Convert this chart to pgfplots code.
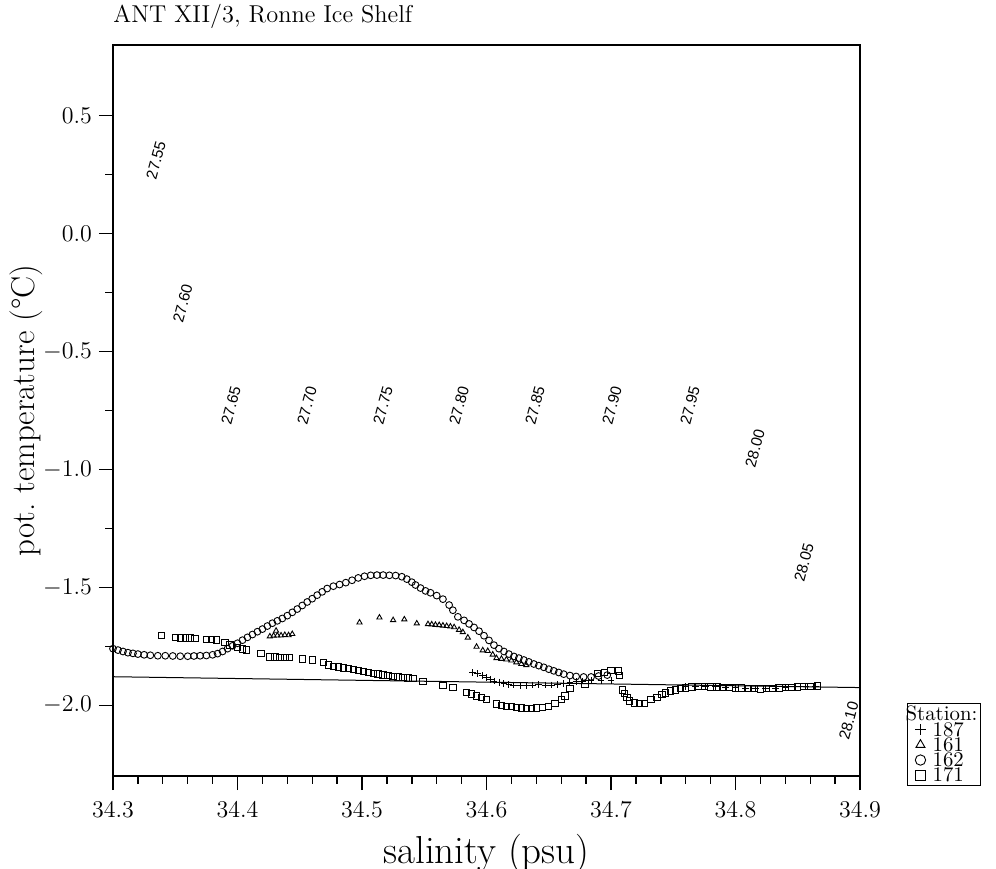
\documentclass[border=0pt]{standalone}
\usepackage{fontspec}
\newfontfamily\isofont{Liberation Sans}
\usepackage{pgfplots}
\pgfplotsset{compat=1.18}
\usepackage{pgfplotstable}

\pgfplotstableread{
x y
34.589 -1.861
34.593 -1.866
34.597 -1.874
34.600 -1.882
34.603 -1.890
34.606 -1.897
34.610 -1.903
34.614 -1.908
34.618 -1.912
34.622 -1.914
34.627 -1.915
34.632 -1.915
34.637 -1.914
34.642 -1.913
34.647 -1.914
34.652 -1.914
34.657 -1.912
34.662 -1.909
34.667 -1.905
34.672 -1.900
34.677 -1.897
34.684 -1.896
34.692 -1.895
34.700 -1.894
34.760 -1.922
34.768 -1.920
34.776 -1.921
34.784 -1.922
34.792 -1.924
34.800 -1.925
34.808 -1.927
34.816 -1.929
34.824 -1.930
34.832 -1.927
34.840 -1.924
34.848 -1.922
34.856 -1.920
34.864 -1.919
}\stA

\pgfplotstableread{
x y
34.426 -1.708
34.429 -1.705
34.431 -1.684
34.432 -1.704
34.435 -1.704
34.438 -1.702
34.441 -1.703
34.444 -1.698
34.498 -1.649
34.514 -1.628
34.525 -1.639
34.534 -1.636
34.544 -1.653
34.553 -1.656
34.556 -1.657
34.559 -1.659
34.562 -1.660
34.565 -1.662
34.568 -1.664
34.571 -1.666
34.574 -1.669
34.578 -1.680
34.581 -1.690
34.585 -1.713
34.592 -1.752
34.597 -1.767
34.601 -1.770
34.605 -1.785
34.608 -1.800
34.612 -1.803
34.616 -1.806
34.620 -1.810
34.624 -1.818
34.628 -1.825
34.632 -1.830
}\stB

\pgfplotstableread{
x y
34.300 -1.760
34.304 -1.766
34.308 -1.772
34.312 -1.777
34.316 -1.780
34.320 -1.783
34.325 -1.786
34.330 -1.788
34.336 -1.790
34.342 -1.790
34.348 -1.791
34.354 -1.792
34.360 -1.792
34.365 -1.791
34.370 -1.790
34.375 -1.789
34.380 -1.786
34.384 -1.781
34.388 -1.772
34.392 -1.760
34.396 -1.748
34.400 -1.737
34.404 -1.724
34.408 -1.712
34.412 -1.700
34.416 -1.688
34.420 -1.677
34.424 -1.664
34.428 -1.652
34.432 -1.642
34.436 -1.632
34.440 -1.620
34.444 -1.606
34.448 -1.592
34.452 -1.577
34.456 -1.562
34.460 -1.548
34.464 -1.533
34.468 -1.519
34.472 -1.505
34.477 -1.495
34.482 -1.488
34.487 -1.480
34.492 -1.470
34.497 -1.460
34.502 -1.453
34.507 -1.449
34.512 -1.448
34.517 -1.448
34.522 -1.449
34.527 -1.450
34.532 -1.455
34.536 -1.465
34.540 -1.478
34.543 -1.490
34.547 -1.503
34.551 -1.515
34.555 -1.523
34.560 -1.535
34.565 -1.550
34.570 -1.575
34.573 -1.597
34.577 -1.625
34.582 -1.640
34.586 -1.655
34.590 -1.670
34.594 -1.686
34.598 -1.705
34.602 -1.725
34.606 -1.745
34.610 -1.760
34.614 -1.772
34.618 -1.783
34.622 -1.793
34.626 -1.800
34.630 -1.808
34.634 -1.816
34.638 -1.825
34.642 -1.832
34.646 -1.839
34.650 -1.847
34.654 -1.854
34.658 -1.861
34.662 -1.868
34.667 -1.874
34.672 -1.878
34.678 -1.880
34.684 -1.880
34.690 -1.876
34.697 -1.872
}\stC

\pgfplotstableread{
x y
34.339 -1.705
34.350 -1.712
34.354 -1.714
34.358 -1.714
34.362 -1.715
34.366 -1.716
34.375 -1.720
34.379 -1.721
34.383 -1.723
34.390 -1.735
34.394 -1.745
34.400 -1.756
34.404 -1.762
34.407 -1.765
34.419 -1.780
34.426 -1.795
34.430 -1.796
34.434 -1.797
34.438 -1.797
34.442 -1.798
34.452 -1.804
34.460 -1.808
34.469 -1.819
34.473 -1.830
34.477 -1.835
34.481 -1.838
34.485 -1.842
34.489 -1.845
34.493 -1.848
34.497 -1.852
34.501 -1.858
34.505 -1.862
34.509 -1.866
34.513 -1.868
34.517 -1.871
34.521 -1.874
34.525 -1.877
34.529 -1.880
34.533 -1.882
34.537 -1.884
34.541 -1.887
34.549 -1.900
34.565 -1.915
34.573 -1.925
34.584 -1.945
34.588 -1.952
34.592 -1.960
34.596 -1.968
34.600 -1.975
34.608 -1.994
34.612 -2.000
34.616 -2.004
34.620 -2.006
34.624 -2.010
34.628 -2.012
34.632 -2.013
34.636 -2.015
34.640 -2.012
34.645 -2.010
34.650 -2.005
34.655 -1.992
34.660 -1.975
34.663 -1.960
34.667 -1.928
34.679 -1.910
34.689 -1.866
34.695 -1.860
34.700 -1.852
34.706 -1.854
34.707 -1.875
34.709 -1.935
34.711 -1.950
34.713 -1.968
34.715 -1.982
34.719 -1.990
34.723 -1.992
34.727 -1.992
34.732 -1.976
34.737 -1.968
34.741 -1.955
34.744 -1.948
34.748 -1.940
34.752 -1.935
34.756 -1.930
34.760 -1.926
34.765 -1.923
34.770 -1.921
34.775 -1.921
34.780 -1.922
34.785 -1.923
34.790 -1.924
34.795 -1.925
34.800 -1.926
34.805 -1.926
34.810 -1.928
34.815 -1.930
34.820 -1.931
34.825 -1.930
34.830 -1.928
34.835 -1.926
34.840 -1.925
34.845 -1.924
34.850 -1.922
34.855 -1.921
34.860 -1.920
34.866 -1.919
}\stD

\begin{document}
\begin{tikzpicture}
\begin{axis}[
  at={(0,0)}, anchor=south west,
  scale only axis, width=373.5pt, height=365.5pt,
  xmin=34.3, xmax=34.9, ymin=-2.3, ymax=0.8,
  xtick={34.3,34.4,34.5,34.6,34.7,34.8,34.9},
  ytick={-2,-1.5,-1,-0.5,0,0.5},
  minor x tick num=4, minor y tick num=1,
  tick pos=left, tick align=outside,
  major tick length=7pt, minor tick length=3.8pt,
  axis line style={line width=1.1pt},
  every tick/.style={black, line width=0.7pt},
  xticklabel style={yshift=-2.5pt, /pgf/number format/.cd, fixed, fixed zerofill, precision=1},
  yticklabel style={/pgf/number format/.cd, fixed, fixed zerofill, precision=1},
  ticklabel style={font=\fontsize{12.8}{15}\selectfont},
  xlabel={salinity (psu)},
  xlabel style={at={(axis description cs:0.5,-0.106)}, anchor=center, font=\fontsize{19.5}{21}\selectfont},
  ylabel={pot.\ temperature (\textdegree C)},
  ylabel style={at={(axis description cs:-0.1165,0.5)}, anchor=center, font=\fontsize{16.5}{18}\selectfont},
  legend style={at={(1.063,-0.014)}, anchor=south west, draw=black, thin,
    font=\fontsize{10.4}{10}\selectfont, row sep=0pt, inner sep=1.5pt,
    nodes={inner sep=0pt, text height=7pt, text depth=0.6pt}},
  legend cell align=left,
  legend image post style={mark size=2.6pt},
  legend image code/.code={\draw[mark repeat=2, mark phase=2, #1] plot coordinates {(0pt,0pt) (5pt,0pt) (10pt,0pt)};},
]
\addplot[black, line width=0.5pt, forget plot] coordinates {(34.3,-1.879) (34.9,-1.925)};
\addlegendimage{empty legend}
\addlegendentry{\hspace{-10pt}Station:}
\addplot[only marks, mark=+, mark size=1.7pt, black, line width=0.45pt] table[x=x,y=y] {\stA};
\addlegendentry{\hspace{3.5pt}187}
\addplot[only marks, mark=triangle, mark size=1.5pt, black, line width=0.45pt] table[x=x,y=y] {\stB};
\addlegendentry{\hspace{3.5pt}161}
\addplot[only marks, mark=o, mark size=1.7pt, black, line width=0.45pt] table[x=x,y=y] {\stC};
\addlegendentry{\hspace{3.5pt}162}
\addplot[only marks, mark=square, mark size=1.6pt, black, line width=0.5pt] table[x=x,y=y] {\stD};
\addlegendentry{\hspace{3.5pt}171}
\begin{scope}[every node/.style={rotate=75, font=\isofont\fontsize{7.7}{9}\selectfont}]
\node at (axis cs:34.3345,0.312) {27.55};
\node at (axis cs:34.356,-0.296) {27.60};
\node at (axis cs:34.3948,-0.729) {27.65};
\node at (axis cs:34.4558,-0.729) {27.70};
\node at (axis cs:34.5169,-0.729) {27.75};
\node at (axis cs:34.578,-0.729) {27.80};
\node at (axis cs:34.639,-0.729) {27.85};
\node at (axis cs:34.7008,-0.729) {27.90};
\node at (axis cs:34.7635,-0.729) {27.95};
\node at (axis cs:34.8157,-0.911) {28.00};
\node at (axis cs:34.855,-1.395) {28.05};
\node at (axis cs:34.891,-2.066) {28.10};
\end{scope}
\end{axis}
\node[anchor=base west, inner sep=0pt, font=\fontsize{12.2}{14}\selectfont] at (0pt,376.5pt) {ANT XII/3, Ronne Ice Shelf};
\pgfresetboundingbox
\path (-56.5pt,-46pt) rectangle (441.5pt,388pt);
\end{tikzpicture}
\end{document}
